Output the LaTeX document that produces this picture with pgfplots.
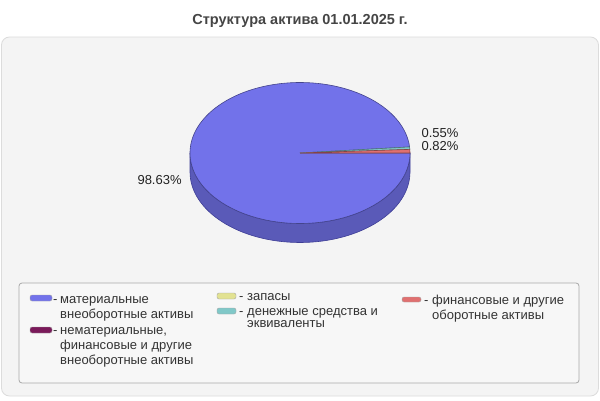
\documentclass[border=0pt]{standalone}
\usepackage{pgfplots}
\pgfplotsset{compat=1.18}
\usepackage{pgfplotstable}
\usepackage{fontspec}
\setmainfont{Liberation Sans}

\definecolor{topblue}{RGB}{114,114,234}
\definecolor{sideblue}{RGB}{90,90,184}
\definecolor{edgeblue}{RGB}{62,62,150}
\definecolor{cpurple}{RGB}{122,26,90}
\definecolor{cyellow}{RGB}{226,226,146}
\definecolor{cteal}{RGB}{128,200,200}
\definecolor{cred}{RGB}{224,112,112}
\definecolor{panelbg}{RGB}{244,244,244}
\definecolor{panelline}{RGB}{220,220,220}
\definecolor{legline}{RGB}{168,168,168}
\definecolor{txt}{RGB}{34,34,34}

% shares in %, legend order
\pgfplotstableread{
share
98.63
0
0
0.55
0.82
}\sharetable

\newcommand{\getshare}[2]{\pgfplotstablegetelem{#1}{share}\of\sharetable\let#2\pgfplotsretval}

\begin{document}
\begin{tikzpicture}[font=\fontsize{13bp}{15bp}\selectfont]
\getshare{0}\sA \getshare{1}\sB \getshare{2}\sC \getshare{3}\sD \getshare{4}\sE
% slices run clockwise from 3 o'clock; each one is the ccw arc [lo, hi]
\pgfmathsetmacro\cA{360-3.6*\sA}
\pgfmathsetmacro\cB{\cA-3.6*\sB}
\pgfmathsetmacro\cC{\cB-3.6*\sC}
\pgfmathsetmacro\cD{\cC-3.6*\sD}
\pgfmathsetmacro\cE{\cD-3.6*\sE}

\newcommand{\slice}[3]{%
  \filldraw[fill=#3, draw=#3!60!black, line width=0.6bp]
    (axis cs:300,247) -- ++(#1:110bp and 70.5bp)
    arc[start angle=#1, end angle=#2, x radius=110bp, y radius=70.5bp] -- cycle;}

\begin{axis}[
    scale only axis,
    width=600bp, height=400bp,
    xmin=0, xmax=600, ymin=0, ymax=400,
    hide axis, clip=false,
  ]
  \fill[white] (axis cs:0,0) rectangle (axis cs:600,400);
  \node[anchor=base, text=black!73, font=\fontsize{14.5bp}{16bp}\selectfont\bfseries]
    at (axis cs:300,376) {Структура актива 01.01.2025 г.};
  \filldraw[fill=panelbg, draw=panelline, rounded corners=8bp, line width=0.8bp]
    (axis cs:1.5,4) rectangle (axis cs:598.5,363);

  % pie side (front half)
  \filldraw[fill=sideblue, draw=edgeblue, line width=0.6bp]
    (axis cs:190,247) arc[start angle=180, end angle=360, x radius=110bp, y radius=70.5bp]
    -- ++(0,-19bp)
    arc[start angle=360, end angle=180, x radius=110bp, y radius=70.5bp] -- cycle;

  % pie top
  \slice{\cA}{360}{topblue}
  \slice{\cD}{\cC}{cteal}
  \slice{\cE}{\cD}{cred}

  \node[anchor=base west, text=txt] at (axis cs:418,263) {0.55\%};
  \node[anchor=base west, text=txt] at (axis cs:418,250) {0.82\%};
  \node[anchor=base west, text=txt] at (axis cs:134,216) {98.63\%};

  % legend
  \filldraw[fill=black!3, draw=legline, rounded corners=3bp, line width=0.8bp]
    (axis cs:19,17) rectangle (axis cs:579,117);
  \begin{scope}[every node/.style={anchor=base west, inner sep=0pt, text=black!80}]
    \filldraw[fill=topblue, draw=black!35, rounded corners=2bp] (axis cs:30,99) rectangle (axis cs:52,105);
    \node at (axis cs:53,97) {-};
    \node at (axis cs:60,97) {материальные};
    \node at (axis cs:60,82) {внеоборотные активы};
    \filldraw[fill=cpurple, draw=black!35, rounded corners=2bp] (axis cs:30,67) rectangle (axis cs:52,73);
    \node at (axis cs:53,66) {-};
    \node at (axis cs:60,66) {нематериальные,};
    \node at (axis cs:60,51) {финансовые и другие};
    \node at (axis cs:60,36) {внеоборотные активы};

    \filldraw[fill=cyellow, draw=black!35, rounded corners=2bp] (axis cs:217,101) rectangle (axis cs:236,107);
    \node at (axis cs:239,100) {-};
    \node at (axis cs:247,100) {запасы};
    \filldraw[fill=cteal, draw=black!35, rounded corners=2bp] (axis cs:217,86) rectangle (axis cs:236,92);
    \node at (axis cs:239,85) {-};
    \node at (axis cs:247,85) {денежные средства и};
    \node at (axis cs:247,73) {эквиваленты};

    \filldraw[fill=cred, draw=black!35, rounded corners=2bp] (axis cs:402,98) rectangle (axis cs:421,103);
    \node at (axis cs:424,96) {-};
    \node at (axis cs:432,96) {финансовые и другие};
    \node at (axis cs:432,81) {оборотные активы};
  \end{scope}
\end{axis}
\end{tikzpicture}
\end{document}
